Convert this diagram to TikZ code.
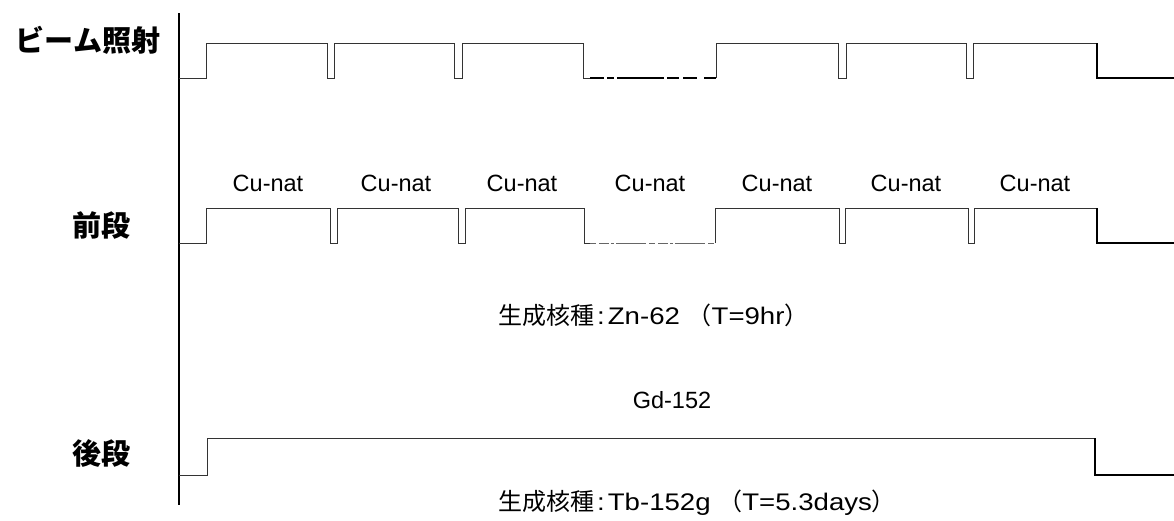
\documentclass[tikz,border=0pt]{standalone}
\usepackage{fontspec}
\setmainfont{Liberation Sans}
\newfontfamily\jp{Noto Sans CJK JP}
\newfontfamily\widesans[FakeStretch=1.15]{Liberation Sans}
\begin{document}
\begin{tikzpicture}[x=1pt,y=-1pt,
  wave/.style={line width=1pt, black!80, line join=miter},
  endline/.style={line width=1.7pt, black, line join=miter},
  gapone/.style={line width=1.4pt, black, dash pattern=on 14pt off 3pt on 7pt off 3pt on 47pt off 3pt on 12pt off 4pt on 14pt off 7pt},
  gaptwo/.style={line width=1pt, black!60, dash pattern=on 6pt off 3pt on 10pt off 2pt on 3pt off 2pt on 30pt off 3pt},
  axisline/.style={line width=1.2pt, black},
  rowlabel/.style={font=\jp\bfseries\fontsize{29}{29}\selectfont, inner sep=0pt, anchor=base},
  tag/.style={font=\fontsize{23.5}{24}\selectfont, inner sep=0pt, anchor=base},
  note/.style={font=\widesans\fontsize{24}{24}\selectfont, inner sep=0pt, anchor=base west}]
\useasboundingbox (0,0) rectangle (1174,520);
\fill[white] (0,0) rectangle (1174,520);

% axis
\draw[axisline] (179,13) -- (179,505);

% row 1: beam
\draw[wave] (179,78) -- (206,78) -- (206,43) -- (327,43) -- (327,78) -- (334,78) -- (334,43)
  -- (454,43) -- (454,78) -- (462,78) -- (462,43) -- (583,43) -- (583,78) -- (590,78);
\draw[gapone] (590,78) -- (716,78);
\draw[wave] (716,78) -- (716,43) -- (838,43) -- (838,78) -- (846,78) -- (846,43)
  -- (966,43) -- (966,78) -- (973,78) -- (973,43) -- (1097,43);
\draw[endline] (1097,43) -- (1097,78) -- (1174,78);

% row 2: front
\draw[wave] (179,243) -- (206,243) -- (206,208) -- (330,208) -- (330,243) -- (337,243) -- (337,208)
  -- (458,208) -- (458,243) -- (465,243) -- (465,208) -- (584,208) -- (584,243) -- (590,243);
\draw[gaptwo] (590,243) -- (715,243);
\draw[wave] (715,243) -- (715,208) -- (839,208) -- (839,243) -- (845,243) -- (845,208)
  -- (968,208) -- (968,243) -- (974,243) -- (974,208) -- (1097,208);
\draw[endline] (1097,208) -- (1097,243) -- (1174,243);

% row 3: rear
\draw[wave] (179,475) -- (207,475) -- (207,438) -- (1095,438);
\draw[endline] (1095,438) -- (1095,475) -- (1174,475);

% labels
\node[rowlabel] (beam) at (88,51) {ビーム照射};
\node[rowlabel] (front) at (101,236) {前段};
\node[rowlabel] (rear) at (101,464) {後段};

\node[tag] (c1) at (268,191) {Cu-nat};
\node[tag] (c2) at (396,191) {Cu-nat};
\node[tag] (c3) at (522,191) {Cu-nat};
\node[tag] (c4) at (650,191) {Cu-nat};
\node[tag] (c5) at (777,191) {Cu-nat};
\node[tag] (c6) at (906,191) {Cu-nat};
\node[tag] (c7) at (1035,191) {Cu-nat};

\node[note] (zn) at (498,324) {{\jp 生成核種}\kern3pt:\kern3pt Zn-62\ {\jp （}T=9hr{\jp ）}};
\node[tag] (gd) at (672,408) {Gd-152};
\node[note] (tb) at (498,510) {{\jp 生成核種}\kern3pt:\kern3pt Tb-152g\ {\jp （}T=5.3days{\jp ）}};
\end{tikzpicture}
\end{document}
